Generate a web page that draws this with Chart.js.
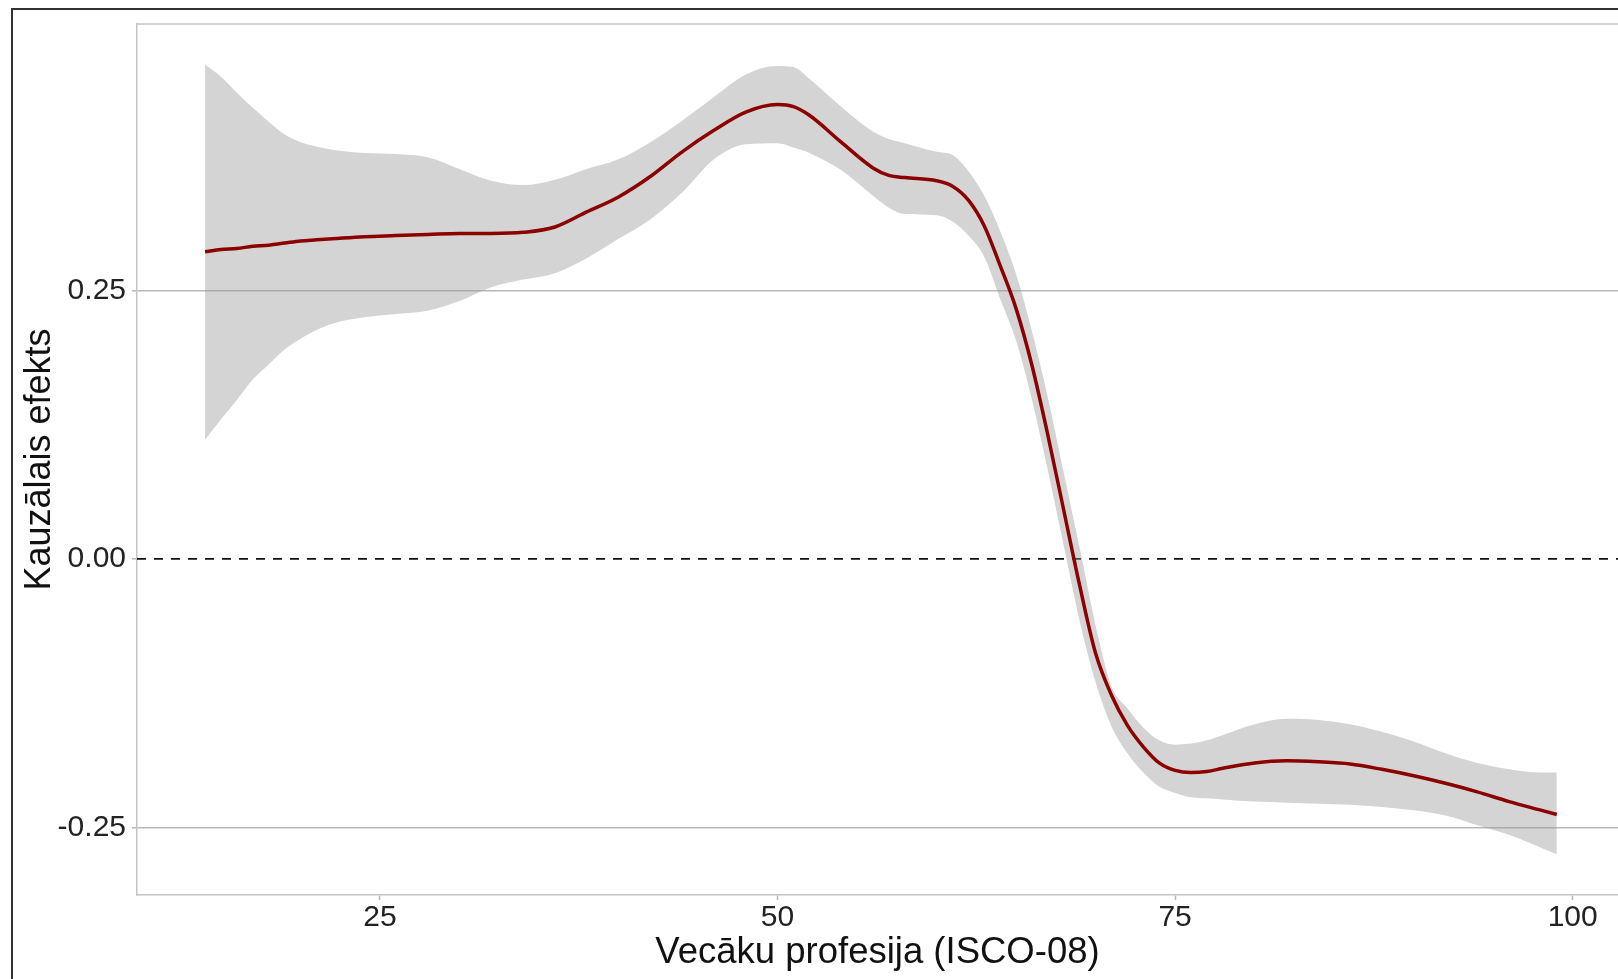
<!DOCTYPE html>
<html>
<head>
<meta charset="utf-8">
<script src="https://cdn.jsdelivr.net/npm/chart.js@4.4.1/dist/chart.umd.min.js"></script>
<style>
  html, body { margin: 0; padding: 0; background: #fff; overflow: hidden; }
  canvas { display: block; }
</style>
</head>
<body>
<canvas id="effect-chart" width="1618" height="979"></canvas>
<script>
// ISCO-08 code of the parents' occupation
const xValues = [14, 15, 16, 17, 18, 19, 20, 21, 22, 24, 26, 28, 30, 32, 34, 36, 38, 40, 42, 44, 46, 48, 50, 51, 52, 54, 56, 57, 58, 60, 61, 62, 63, 64, 65, 66, 67, 68, 69, 70, 71, 72, 73, 74, 75, 76, 77, 78, 80, 82, 84, 86, 88, 90, 92, 94, 96, 98, 99];

// smoothed causal effect
const effectMean = [0.286, 0.288, 0.289, 0.291, 0.292, 0.294, 0.296, 0.297, 0.298, 0.300, 0.301, 0.302, 0.303, 0.303, 0.304, 0.309, 0.323, 0.337, 0.356, 0.379, 0.399, 0.416, 0.423, 0.421, 0.413, 0.388, 0.364, 0.357, 0.355, 0.352, 0.347, 0.334, 0.310, 0.273, 0.233, 0.180, 0.115, 0.045, -0.025, -0.088, -0.127, -0.155, -0.175, -0.190, -0.197, -0.199, -0.198, -0.195, -0.190, -0.188, -0.189, -0.191, -0.196, -0.202, -0.209, -0.217, -0.226, -0.234, -0.238];

// confidence band
const bandUpper = [0.460, 0.449, 0.434, 0.420, 0.407, 0.395, 0.388, 0.384, 0.381, 0.378, 0.377, 0.374, 0.363, 0.352, 0.348, 0.353, 0.363, 0.372, 0.388, 0.408, 0.430, 0.451, 0.459, 0.458, 0.447, 0.421, 0.398, 0.391, 0.387, 0.379, 0.376, 0.361, 0.338, 0.305, 0.265, 0.212, 0.150, 0.080, 0.010, -0.062, -0.119, -0.139, -0.157, -0.169, -0.173, -0.172, -0.169, -0.164, -0.154, -0.149, -0.150, -0.154, -0.161, -0.170, -0.181, -0.190, -0.196, -0.199, -0.199];
const bandLower = [0.111, 0.130, 0.148, 0.167, 0.181, 0.195, 0.205, 0.213, 0.219, 0.225, 0.228, 0.231, 0.240, 0.253, 0.260, 0.266, 0.280, 0.298, 0.316, 0.341, 0.372, 0.386, 0.387, 0.383, 0.378, 0.362, 0.338, 0.327, 0.321, 0.320, 0.314, 0.301, 0.281, 0.242, 0.203, 0.148, 0.082, 0.012, -0.058, -0.115, -0.156, -0.181, -0.199, -0.212, -0.218, -0.222, -0.223, -0.224, -0.226, -0.227, -0.228, -0.229, -0.231, -0.234, -0.239, -0.248, -0.257, -0.269, -0.275];

const xTicks = [25, 50, 75, 100];
const yTicks = [-0.25, 0, 0.25];

const toPoints = vals => vals.map((v, i) => ({ x: xValues[i], y: v }));

const GRID = '#b8b8b8';
const FONT = "'Liberation Sans', Arial, sans-serif";

// dashed zero line, top panel edge and the outer frame
const framePlugin = {
    id: 'frame',
    beforeDatasetsDraw(chart) {
        const { ctx, chartArea, scales } = chart;
        const y0 = scales.y.getPixelForValue(0);
        ctx.save();
        ctx.strokeStyle = '#111';
        ctx.lineWidth = 1.6;
        ctx.setLineDash([9, 8]);
        ctx.beginPath();
        ctx.moveTo(chartArea.left, y0);
        ctx.lineTo(chartArea.right, y0);
        ctx.stroke();
        ctx.restore();
    },
    afterDraw(chart) {
        const { ctx, chartArea } = chart;
        ctx.save();
        ctx.strokeStyle = '#c4c4c4';
        ctx.lineWidth = 1.5;
        ctx.beginPath();
        ctx.moveTo(chartArea.left, chartArea.top);
        ctx.lineTo(chartArea.right, chartArea.top);
        ctx.stroke();
        ctx.strokeStyle = '#333';
        ctx.lineWidth = 2;
        ctx.beginPath();
        ctx.moveTo(12, chart.height);
        ctx.lineTo(12, 9);
        ctx.lineTo(chart.width, 9);
        ctx.stroke();
        ctx.restore();
    }
};

new Chart(document.getElementById('effect-chart'), {
    type: 'line',
    data: {
        datasets: [
            {
                label: 'Kauzālais efekts',
                data: toPoints(effectMean),
                borderColor: '#8b0000',
                borderWidth: 3.5,
                pointRadius: 0,
                cubicInterpolationMode: 'monotone',
                fill: false,
                order: 0
            },
            {
                label: 'upper',
                data: toPoints(bandUpper),
                borderWidth: 0,
                borderColor: 'rgba(0,0,0,0)',
                pointRadius: 0,
                cubicInterpolationMode: 'monotone',
                fill: false,
                order: 2
            },
            {
                label: 'lower',
                data: toPoints(bandLower),
                borderWidth: 0,
                borderColor: 'rgba(0,0,0,0)',
                backgroundColor: 'rgba(153,153,153,0.42)',
                pointRadius: 0,
                cubicInterpolationMode: 'monotone',
                fill: '-1',
                order: 1
            }
        ]
    },
    options: {
        responsive: false,
        animation: false,
        layout: { padding: { top: 19, right: 0, bottom: 0, left: 18 } },
        plugins: {
            legend: { display: false },
            tooltip: { enabled: false }
        },
        scales: {
            x: {
                type: 'linear',
                min: 9.72,
                max: 102.85,
                afterBuildTicks: scale => { scale.ticks = xTicks.map(v => ({ value: v })); },
                afterFit: scale => { scale.height = 84; },
                grid: {
                    drawOnChartArea: false,
                    drawTicks: true,
                    tickLength: 5,
                    tickColor: GRID,
                    tickWidth: 1.5
                },
                border: { display: true, color: '#c4c4c4', width: 1.5 },
                ticks: {
                    autoSkip: false,
                    maxRotation: 0,
                    padding: 0,
                    color: '#222',
                    font: { family: FONT, size: 30 }
                },
                title: {
                    display: true,
                    text: 'Vecāku profesija (ISCO-08)',
                    color: '#111',
                    font: { family: FONT, size: 36.5 },
                    padding: { top: 0, bottom: 4 }
                }
            },
            y: {
                type: 'linear',
                min: -0.313,
                max: 0.498,
                afterBuildTicks: scale => { scale.ticks = yTicks.map(v => ({ value: v })); },
                afterFit: scale => { scale.width = 119; },
                grid: {
                    color: ctx => (ctx.tick && ctx.tick.value === 0 ? 'rgba(0,0,0,0)' : GRID),
                    lineWidth: 1.6,
                    drawTicks: true,
                    tickLength: 5,
                    tickColor: GRID,
                    tickWidth: 1.5
                },
                border: { display: true, color: '#c4c4c4', width: 1.5 },
                ticks: {
                    padding: 6,
                    color: '#222',
                    font: { family: FONT, size: 30 },
                    callback: v => v.toFixed(2)
                },
                title: {
                    display: true,
                    text: 'Kauzālais efekts',
                    color: '#111',
                    font: { family: FONT, size: 36 },
                    padding: 0
                }
            }
        }
    },
    plugins: [framePlugin]
});
</script>
</body>
</html>
